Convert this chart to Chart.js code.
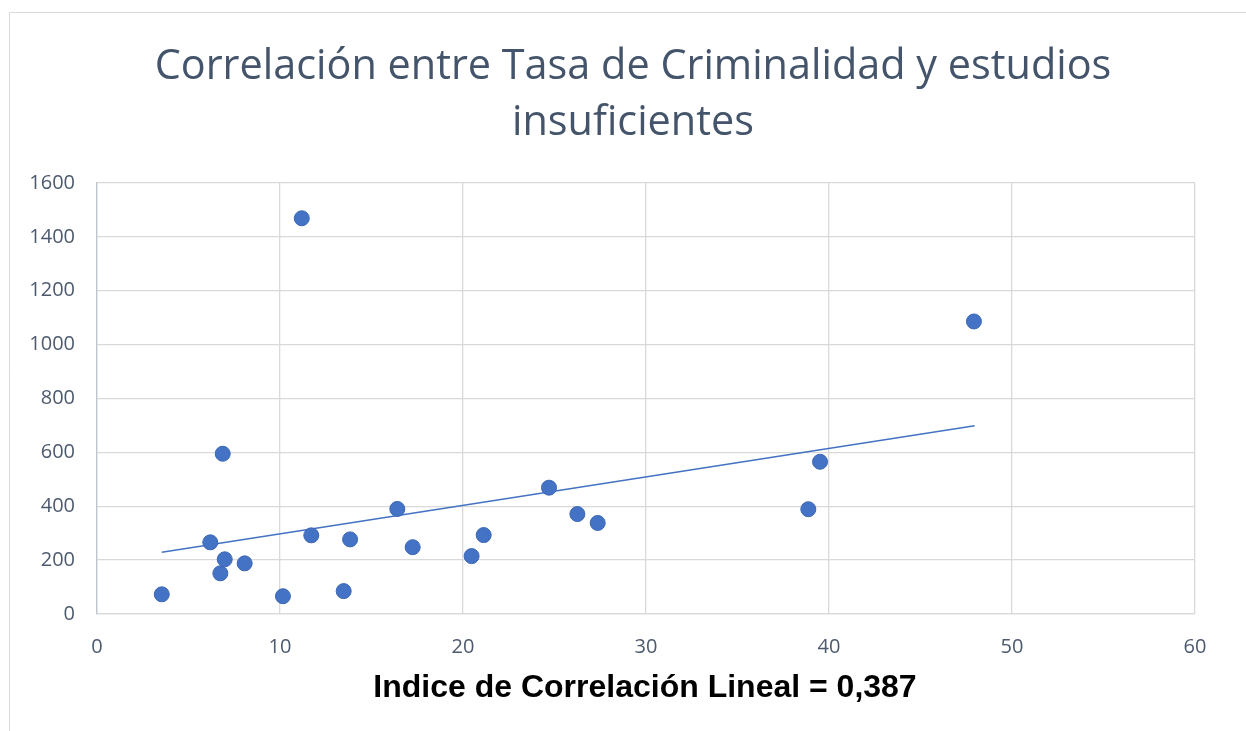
<!DOCTYPE html>
<html>
<head>
<meta charset="utf-8">
<script src="https://cdn.jsdelivr.net/npm/chart.js@4.4.1/dist/chart.umd.min.js"></script>
<style>
  html, body { margin: 0; padding: 0; background: #fff; }
  #wrap { position: relative; width: 1246px; height: 731px; }
</style>
</head>
<body>
<div id="wrap"><canvas id="c" width="1246" height="731"></canvas></div>
<script>
// ---- data ----
const titleLines = ["Correlación entre Tasa de Criminalidad y estudios", "insuficientes"];
const footnote = "Indice de Correlación Lineal = 0,387";
const estudiosX = [3.54, 6.19, 6.87, 6.74, 6.98, 8.07, 10.16, 11.19, 11.71, 13.48, 13.83, 16.41, 17.25, 20.47, 21.13, 24.70, 26.25, 27.36, 38.87, 39.51, 47.92];
const criminalidadY = [73, 266, 595, 151, 203, 188, 66, 1469, 292, 85, 277, 390, 248, 215, 293, 469, 371, 338, 389, 565, 1086];
const trendX = [3.54, 47.96];
const trendY = [229, 699];
const xTicks = [0, 10, 20, 30, 40, 50, 60];
const yTicks = [0, 200, 400, 600, 800, 1000, 1200, 1400, 1600];

const points = estudiosX.map((x, i) => ({ x: x, y: criminalidadY[i] }));
const trend = trendX.map((x, i) => ({ x: x, y: trendY[i] }));

const decor = {
  id: 'decor',
  beforeDraw(chart) {
    const ctx = chart.ctx;
    ctx.save();
    ctx.strokeStyle = '#D9D9D9';
    ctx.lineWidth = 1;
    ctx.beginPath();
    ctx.moveTo(9.5, 740); ctx.lineTo(9.5, 12.5); ctx.lineTo(1250, 12.5);
    ctx.stroke();
    ctx.restore();
  },
  afterDraw(chart) {
    const ctx = chart.ctx;
    ctx.save();
    ctx.fillStyle = '#44546A';
    ctx.textAlign = 'center';
    ctx.textBaseline = 'alphabetic';
    ctx.font = '41.4px "Open Sans"';
    ctx.fillText(titleLines[0], 633, 79);
    ctx.fillText(titleLines[1], 633, 135);
    ctx.fillStyle = '#000';
    ctx.font = 'bold 32px "Liberation Sans"';
    ctx.fillText(footnote, 645, 697);
    ctx.restore();
  }
};

const tickFont = { family: 'Open Sans', size: 20 };
const tickColor = '#4D5A6E';

new Chart(document.getElementById('c'), {
  type: 'scatter',
  data: {
    datasets: [
      {
        label: 'Tasa de Criminalidad',
        data: points,
        pointRadius: 7.5,
        pointHoverRadius: 7.5,
        backgroundColor: '#4472C4',
        borderColor: '#3B66B5',
        borderWidth: 1
      },
      {
        type: 'line',
        label: 'Tendencia',
        data: trend,
        borderColor: '#4472C4',
        borderWidth: 1.6,
        pointRadius: 0,
        fill: false
      }
    ]
  },
  options: {
    responsive: false,
    animation: false,
    layout: { padding: { left: 0, right: 51, top: 183, bottom: 67 } },
    plugins: { legend: { display: false }, title: { display: false }, tooltip: { enabled: false } },
    scales: {
      x: {
        type: 'linear', min: 0, max: 60,
        afterBuildTicks(s) { s.ticks = xTicks.map(v => ({ value: v })); },
        afterFit(s) { s.height = 50; },
        grid: { color: '#D9D9D9', lineWidth: 1.3, drawTicks: false },
        border: { color: '#D9D9D9', width: 1.3 },
        ticks: { padding: 21, color: tickColor, font: tickFont, callback: v => String(v) }
      },
      y: {
        type: 'linear', min: 0, max: 1600,
        afterBuildTicks(s) { s.ticks = yTicks.map(v => ({ value: v })); },
        afterFit(s) { s.width = 97; },
        grid: { color: '#D9D9D9', lineWidth: 1.3, drawTicks: false },
        border: { color: '#BFC5CE', width: 1.3 },
        ticks: { padding: 22, color: tickColor, font: tickFont, callback: v => String(v) }
      }
    }
  },
  plugins: [decor]
});
</script>
</body>
</html>
